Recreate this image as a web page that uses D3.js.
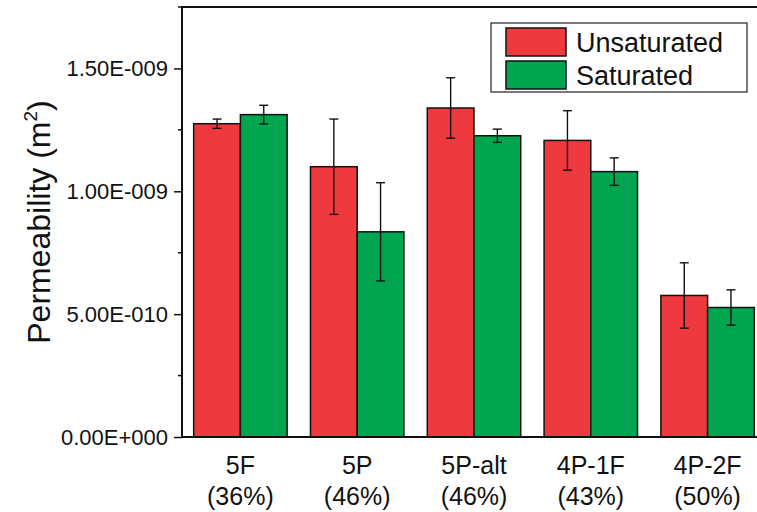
<!DOCTYPE html>
<html>
<head>
<meta charset="utf-8">
<script src="https://cdn.jsdelivr.net/npm/d3@7"></script>
<style>
body { margin: 0; background: #fff; }
svg { display: block; font-family: "Liberation Sans", Arial, sans-serif; }
</style>
</head>
<body>
<svg></svg>
<script>
const width = 757
const height = 512

const categories = ['5F', '5P', '5P-alt', '4P-1F', '4P-2F']
const porosity = ['(36%)', '(46%)', '(46%)', '(43%)', '(50%)']
const series = ['Unsaturated', 'Saturated']
const unsaturated = [1.275e-9, 1.100e-9, 1.339e-9, 1.207e-9, 0.576e-9]
const unsaturatedErr = [0.019e-9, 0.194e-9, 0.123e-9, 0.121e-9, 0.133e-9]
const saturated = [1.312e-9, 0.835e-9, 1.226e-9, 1.080e-9, 0.527e-9]
const saturatedErr = [0.038e-9, 0.200e-9, 0.027e-9, 0.056e-9, 0.072e-9]
const yTicks = [0, 5e-10, 1e-9, 1.5e-9]
const yTickLabels = ['0.00E+000', '5.00E-010', '1.00E-009', '1.50E-009']
const colors = ['#ee3a3f', '#00a64f']

const margin = { left: 182, top: 7, bottom: 437 }

const svg = d3.select('svg')
	.attr('width', width)
	.attr('height', height)

const x0 = d3.scaleBand()
	.domain(categories)
	.range([margin.left, 766])
	.paddingInner(0.2)
	.paddingOuter(0.1)

const x1 = d3.scaleBand()
	.domain(series)
	.range([0, x0.bandwidth()])

const y = d3.scaleLinear()
	.domain([0, 1.75e-9])
	.range([margin.bottom, margin.top])

const rows = []
categories.forEach(function (c, i) {
	rows.push({ cat: c, s: series[0], v: unsaturated[i], e: unsaturatedErr[i] })
	rows.push({ cat: c, s: series[1], v: saturated[i], e: saturatedErr[i] })
})

// bars
svg.append('g')
	.selectAll('rect')
	.data(rows)
	.enter()
	.append('rect')
	.attr('x', d => x0(d.cat) + x1(d.s))
	.attr('y', d => y(d.v))
	.attr('width', x1.bandwidth())
	.attr('height', d => y(0) - y(d.v))
	.attr('fill', d => colors[series.indexOf(d.s)])
	.attr('stroke', '#111')
	.attr('stroke-width', 1.5)

// error bars
const eb = svg.append('g')
	.attr('stroke', '#111')
	.attr('stroke-width', 1.4)
	.selectAll('g')
	.data(rows)
	.enter()
	.append('g')
	.attr('transform', d => 'translate(' + (x0(d.cat) + x1(d.s) + x1.bandwidth() / 2) + ',0)')
eb.append('line')
	.attr('y1', d => y(d.v - d.e))
	.attr('y2', d => y(d.v + d.e))
eb.append('line')
	.attr('x1', -4.5).attr('x2', 4.5)
	.attr('y1', d => y(d.v + d.e))
	.attr('y2', d => y(d.v + d.e))
eb.append('line')
	.attr('x1', -4.5).attr('x2', 4.5)
	.attr('y1', d => y(d.v - d.e))
	.attr('y2', d => y(d.v - d.e))

// y axis
const yAxis = svg.append('g')
	.attr('transform', 'translate(' + margin.left + ',0)')
	.call(d3.axisLeft(y)
		.tickValues(yTicks)
		.tickFormat((d, i) => yTickLabels[i])
		.tickSize(8)
		.tickPadding(6))
yAxis.select('.domain').remove()
yAxis.selectAll('.tick line').attr('stroke', '#111').attr('stroke-width', 1.5)
yAxis.selectAll('.tick text')
	.attr('font-size', 22)
	.attr('fill', '#111')
	.attr('font-family', '"Liberation Sans", Arial, sans-serif')

// minor ticks
svg.append('g')
	.selectAll('line')
	.data([2.5e-10, 7.5e-10, 1.25e-9, 1.75e-9])
	.enter()
	.append('line')
	.attr('x1', margin.left - 4)
	.attr('x2', margin.left)
	.attr('y1', d => y(d))
	.attr('y2', d => y(d))
	.attr('stroke', '#111')
	.attr('stroke-width', 1.5)

// frame lines
svg.append('line')
	.attr('x1', margin.left).attr('x2', margin.left)
	.attr('y1', margin.top).attr('y2', margin.bottom + 1)
	.attr('stroke', '#111').attr('stroke-width', 2)
svg.append('line')
	.attr('x1', margin.left - 1).attr('x2', width)
	.attr('y1', margin.bottom).attr('y2', margin.bottom)
	.attr('stroke', '#111').attr('stroke-width', 2)
svg.append('line')
	.attr('x1', margin.left - 1).attr('x2', width)
	.attr('y1', margin.top).attr('y2', margin.top)
	.attr('stroke', '#111').attr('stroke-width', 2)

// x labels
const xl = svg.append('g')
	.selectAll('text')
	.data(categories)
	.enter()
	.append('text')
	.attr('x', d => x0(d) + x0.bandwidth() / 2)
	.attr('text-anchor', 'middle')
	.attr('font-size', 25)
	.attr('fill', '#111')
xl.append('tspan')
	.attr('x', d => x0(d) + x0.bandwidth() / 2)
	.attr('y', 474)
	.text(d => d)
xl.append('tspan')
	.attr('x', d => x0(d) + x0.bandwidth() / 2)
	.attr('y', 505)
	.text((d, i) => porosity[i])

// y title
const yt = svg.append('text')
	.attr('transform', 'translate(50,' + 222 + ') rotate(-90)')
	.attr('text-anchor', 'middle')
	.attr('font-size', 32)
	.attr('fill', '#111')
yt.append('tspan').text('Permeability (m')
yt.append('tspan').attr('font-size', 19).attr('dy', -13).text('2')
yt.append('tspan').attr('dy', 13).text(')')

// legend
const lg = svg.append('g')
lg.append('rect')
	.attr('x', 491).attr('y', 23)
	.attr('width', 256).attr('height', 69)
	.attr('fill', '#fff')
	.attr('stroke', '#222')
	.attr('stroke-width', 1.2)
const li = lg.selectAll('g')
	.data(series)
	.enter()
	.append('g')
	.attr('transform', (d, i) => 'translate(506,' + (28 + i * 33) + ')')
li.append('rect')
	.attr('width', 60).attr('height', 28)
	.attr('fill', (d, i) => colors[i])
	.attr('stroke', '#111')
	.attr('stroke-width', 1.5)
li.append('text')
	.attr('x', 70).attr('y', 24)
	.attr('font-size', 27)
	.attr('fill', '#111')
	.text(d => d)
</script>
</body>
</html>
